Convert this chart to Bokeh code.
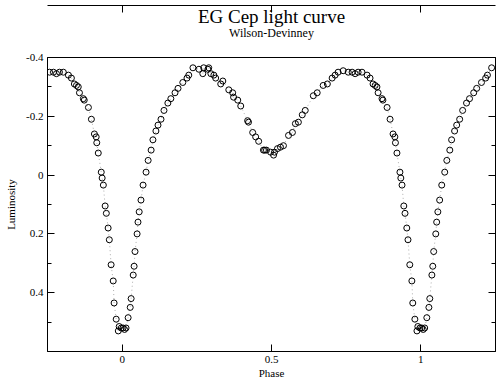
from bokeh.plotting import figure
from bokeh.models import Range1d, LinearAxis, FixedTicker, Title, ColumnDataSource
from bokeh.embed import file_html
from bokeh.resources import INLINE

# Observed light curve: phase (0..1) and luminosity (magnitude-like, inverted axis)
phase = [0.003, 0.013, 0.008, 0.020, 0.027, 0.030, 0.037, 0.040, 0.043, 0.050,
         0.053, 0.057, 0.063, 0.070, 0.080, 0.087, 0.097, 0.103, 0.113, 0.120,
         0.130, 0.140, 0.153, 0.163, 0.177, 0.187, 0.203, 0.217, 0.223, 0.237,
         0.257, 0.270, 0.273, 0.287, 0.290, 0.297, 0.307, 0.313, 0.330, 0.337,
         0.357, 0.370, 0.373, 0.387, 0.397, 0.420, 0.423, 0.437, 0.447, 0.457,
         0.473, 0.477, 0.483, 0.497, 0.507, 0.510, 0.520, 0.530, 0.540, 0.557,
         0.570, 0.580, 0.590, 0.603, 0.613, 0.640, 0.653, 0.673, 0.687, 0.703,
         0.713, 0.723, 0.740, 0.757, 0.770, 0.780, 0.790, 0.803, 0.820, 0.830,
         0.840, 0.847, 0.853, 0.857, 0.870, 0.873, 0.887, 0.897, 0.907, 0.913,
         0.915, 0.920, 0.930, 0.933, 0.937, 0.943, 0.947, 0.953, 0.957, 0.963,
         0.970, 0.973, 0.980, 0.987, 0.990, 0.997]
luminosity = [0.520, 0.520, 0.525, 0.485, 0.450, 0.420, 0.340, 0.310, 0.260, 0.200,
              0.160, 0.125, 0.085, 0.034, -0.010, -0.050, -0.085, -0.120, -0.150, -0.170,
              -0.190, -0.220, -0.245, -0.260, -0.280, -0.295, -0.315, -0.330, -0.340, -0.365,
              -0.360, -0.345, -0.365, -0.360, -0.365, -0.345, -0.340, -0.330, -0.310, -0.320,
              -0.290, -0.280, -0.265, -0.255, -0.235, -0.185, -0.180, -0.145, -0.130, -0.115,
              -0.085, -0.085, -0.085, -0.078, -0.068, -0.078, -0.090, -0.095, -0.100, -0.135,
              -0.145, -0.175, -0.180, -0.205, -0.220, -0.270, -0.280, -0.305, -0.310, -0.330,
              -0.340, -0.350, -0.355, -0.350, -0.350, -0.345, -0.350, -0.350, -0.340, -0.330,
              -0.310, -0.305, -0.300, -0.280, -0.260, -0.255, -0.230, -0.190, -0.140, -0.130,
              -0.110, -0.075, -0.010, 0.010, 0.034, 0.105, 0.130, 0.180, 0.220, 0.305,
              0.360, 0.435, 0.490, 0.530, 0.515, 0.520]

title_text = "EG Cep light curve"
subtitle_text = "Wilson-Devinney"
x_ticks = [0, 0.5, 1]
x_tick_labels = ["0", "0.5", "1"]
y_ticks = [-0.4, -0.2, 0, 0.2, 0.4]
y_tick_labels = ["-0.4", "-0.2", "0", "0.2", "0.4"]
y_minor = [-0.3, -0.1, 0.1, 0.3, 0.5]

# Phase-fold: show copies shifted by one cycle within [-0.25, 1.25]
xs, ys = [], []
for ph, lum in zip(phase, luminosity):
    for shift in (-1, 0, 1):
        q = ph + shift
        if -0.25 <= q <= 1.25:
            xs.append(q)
            ys.append(lum)
order = sorted(range(len(xs)), key=lambda i: xs[i])
src = ColumnDataSource(dict(x=[xs[i] for i in order], y=[ys[i] for i in order]))

SERIF = "Liberation Serif"

p = figure(width=496, height=381, output_backend="svg", toolbar_location=None,
           x_range=Range1d(-0.25, 1.25), y_range=Range1d(0.6, -0.4),
           min_border_left=47, min_border_right=1, min_border_top=57, min_border_bottom=29)
p.title.text = ""
p.add_layout(Title(text=subtitle_text, align="center", text_font=SERIF,
                   text_font_size="12px", text_font_style="normal", text_color="black",
                   standoff=36), "above")
p.add_layout(Title(text=title_text, align="center", text_font=SERIF,
                   text_font_size="19px", text_font_style="normal", text_color="black",
                   standoff=-42), "above")

p.xgrid.visible = False
p.ygrid.visible = False
p.outline_line_color = "black"
p.background_fill_color = "white"
p.border_fill_color = "white"

p.line("x", "y", source=src, line_color="#999999", line_width=0.8, line_dash="1 3")
p.scatter("x", "y", source=src, size=6, marker="circle", fill_color=None,
          line_color="black", line_width=1)

def style(ax, labels=True):
    ax.axis_line_color = "black"
    ax.major_tick_in = 7
    ax.major_tick_out = 0
    ax.minor_tick_in = 4
    ax.minor_tick_out = 0
    ax.major_tick_line_color = "black"
    ax.minor_tick_line_color = "black"
    ax.major_label_text_font = SERIF
    ax.major_label_text_color = "black"
    ax.axis_label_text_font = SERIF
    ax.axis_label_text_font_style = "normal"
    ax.axis_label_text_color = "black"
    ax.axis_label_text_font_size = "11px"
    ax.major_label_text_font_size = "11px"
    ax.major_label_standoff = 4 if labels else 0

xa = p.xaxis[0]
xa.ticker = FixedTicker(ticks=x_ticks, minor_ticks=[])
xa.major_label_overrides = dict(zip(x_ticks, x_tick_labels))
xa.axis_label = "Phase"
style(xa)
xa.axis_label_standoff = 1

ya = p.yaxis[0]
ya.ticker = FixedTicker(ticks=y_ticks, minor_ticks=y_minor)
ya.major_label_overrides = dict(zip(y_ticks, y_tick_labels))
ya.axis_label = "Luminosity"
style(ya)
ya.axis_label_standoff = 6

top = LinearAxis(ticker=FixedTicker(ticks=x_ticks, minor_ticks=[]))
style(top, labels=False)
top.major_label_overrides = {t: "" for t in x_ticks}
p.add_layout(top, "above")

right = LinearAxis(ticker=FixedTicker(ticks=y_ticks, minor_ticks=y_minor))
style(right, labels=False)
right.major_label_overrides = {t: "" for t in y_ticks}
p.add_layout(right, "right")

open("out.html", "w").write(file_html(p, INLINE))
